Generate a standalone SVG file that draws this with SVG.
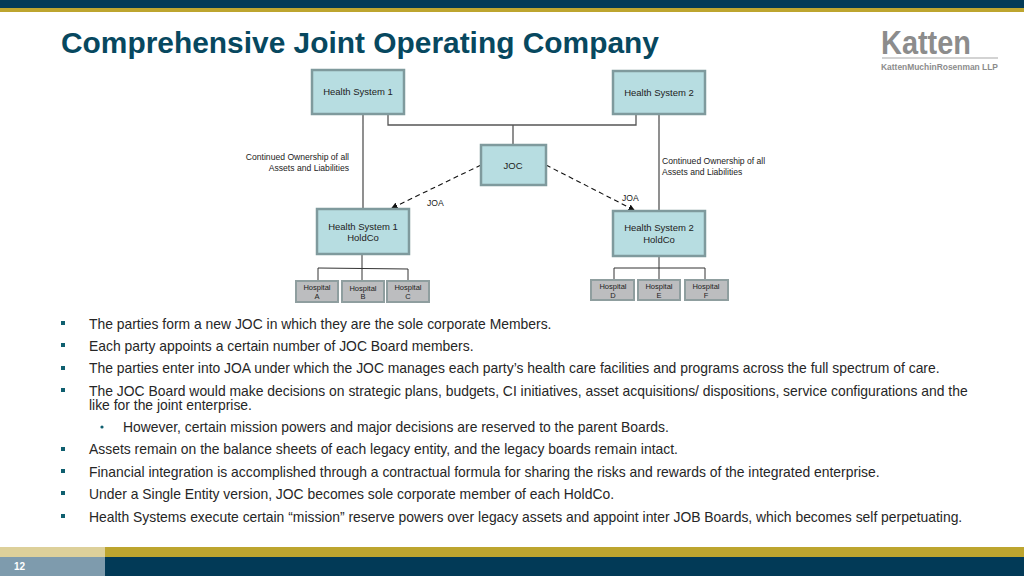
<svg xmlns="http://www.w3.org/2000/svg" width="1024" height="576" viewBox="0 0 1024 576">
<style>
text{font-family:"Liberation Sans",Arial,sans-serif;fill:#222}
.box{fill:#b7dde1;stroke:#7f9a9d;stroke-width:2.5}
.hosp{fill:#bcbdbf;stroke:#8f9e9f;stroke-width:2}
.t{font-size:9.5px;text-anchor:middle}
.h{font-size:7.5px;text-anchor:middle}
.b{font-size:13.9px;fill:#262626}
.l{font-size:8.6px}
.c{fill:none;stroke:#555;stroke-width:1.3}
.d{fill:none;stroke:#111;stroke-width:1.1;stroke-dasharray:5 3.5}
.sq{fill:#0f5f6f}
</style>
<defs><marker id="ah" markerWidth="6" markerHeight="6" refX="5" refY="3" orient="auto"><path d="M0 0L6 3L0 6z" fill="#111"/></marker></defs>
<rect width="1024" height="8" fill="#023a57"/>
<rect y="8" width="1024" height="4" fill="#bda52f"/>
<text x="61" y="52.500" style="font-size:29.9px;font-weight:700;fill:#07485f">Comprehensive Joint Operating Company</text>
<g id="logo">
<text x="881" y="54" style="font-size:33px;font-weight:700;fill:#8c8c8c" textLength="90" lengthAdjust="spacingAndGlyphs">Katten</text>
<rect x="882" y="57.500" width="116" height="1" fill="#a8a8a8"/>
<text x="881" y="70" style="font-size:9px;font-weight:700;fill:#8c8c8c" textLength="117" lengthAdjust="spacingAndGlyphs">KattenMuchinRosenman LLP</text>
</g>
<g id="connectors">
<path class="c" d="M363 114V209M388 114V125H636V114M513 125V145M659 114V211"/>
<path class="c" d="M362 255V268M318 282V268L408 269V282M362 268V281M659 256V268M614 279V268H705V279M659 268V279" style="stroke:#333;stroke-width:1"/>
<path class="d" d="M481 165L392 208" marker-end="url(#ah)"/>
<path class="d" d="M546 165L634 210" marker-end="url(#ah)"/>
</g>
<g id="hs1"><rect class="box" x="312" y="70" width="92" height="44"/><text class="t" x="358" y="95">Health System 1</text></g>
<g id="hs2"><rect class="box" x="613" y="71" width="92" height="43"/><text class="t" x="659" y="96">Health System 2</text></g>
<g id="joc"><rect class="box" x="481" y="145" width="65" height="40"/><text class="t" x="513" y="169">JOC</text></g>
<g id="hc1"><rect class="box" x="317" y="209" width="92" height="45"/><text class="t" x="363" y="230">Health System 1</text><text class="t" x="363" y="241">HoldCo</text></g>
<g id="hc2"><rect class="box" x="613" y="211" width="92" height="45"/><text class="t" x="659" y="231">Health System 2</text><text class="t" x="659" y="243">HoldCo</text></g>
<g id="ha"><rect class="hosp" x="296" y="281" width="42" height="21"/><text class="h" x="317" y="290">Hospital</text><text class="h" x="317" y="299">A</text></g>
<g id="hb"><rect class="hosp" x="342" y="281" width="42" height="21"/><text class="h" x="363" y="291">Hospital</text><text class="h" x="363" y="299">B</text></g>
<g id="hc"><rect class="hosp" x="387" y="281" width="42" height="21"/><text class="h" x="408" y="290">Hospital</text><text class="h" x="408" y="299">C</text></g>
<g id="hd"><rect class="hosp" x="591" y="280" width="43" height="20"/><text class="h" x="613" y="289">Hospital</text><text class="h" x="613" y="298">D</text></g>
<g id="he"><rect class="hosp" x="638" y="280" width="42" height="20"/><text class="h" x="659" y="289">Hospital</text><text class="h" x="659" y="298">E</text></g>
<g id="hf"><rect class="hosp" x="685" y="280" width="43" height="20"/><text class="h" x="706" y="289">Hospital</text><text class="h" x="706" y="298">F</text></g>
<text class="l" x="349" y="160" text-anchor="end">Continued Ownership of all</text>
<text class="l" x="349" y="171" text-anchor="end">Assets and Liabilities</text>
<text class="l" x="662" y="164">Continued Ownership of all</text>
<text class="l" x="662" y="175">Assets and Liabilities</text>
<text class="l" x="427" y="206">JOA</text>
<text class="l" x="622" y="201">JOA</text>
<rect class="sq" x="61" y="321" width="4" height="4"/><text class="b" x="89" y="328.500">The parties form a new JOC in which they are the sole corporate Members.</text>
<rect class="sq" x="61" y="343" width="4" height="4"/><text class="b" x="89" y="350.500">Each party appoints a certain number of JOC Board members.</text>
<rect class="sq" x="61" y="366" width="4" height="4"/><text class="b" x="89" y="372.500">The parties enter into JOA under which the JOC manages each party’s health care facilities and programs across the full spectrum of care.</text>
<rect class="sq" x="61" y="388" width="4" height="4"/><text class="b" x="89" y="395.500">The JOC Board would make decisions on strategic plans, budgets, CI initiatives, asset acquisitions/ dispositions, service configurations and the</text>
<text class="b" x="89" y="410">like for the joint enterprise.</text>
<circle class="sq" cx="102" cy="427" r="1.6"/><text class="b" x="123" y="431.500">However, certain mission powers and major decisions are reserved to the parent Boards.</text>
<rect class="sq" x="61" y="447" width="4" height="4"/><text class="b" x="89" y="454">Assets remain on the balance sheets of each legacy entity, and the legacy boards remain intact.</text>
<rect class="sq" x="61" y="469" width="4" height="4"/><text class="b" x="89" y="476.500">Financial integration is accomplished through a contractual formula for sharing the risks and rewards of the integrated enterprise.</text>
<rect class="sq" x="61" y="491" width="4" height="4"/><text class="b" x="89" y="498.500">Under a Single Entity version, JOC becomes sole corporate member of each HoldCo.</text>
<rect class="sq" x="61" y="514" width="4" height="4"/><text class="b" x="89" y="521.500">Health Systems execute certain “mission” reserve powers over legacy assets and appoint inter JOB Boards, which becomes self perpetuating.</text>
<rect y="547" width="105" height="10" fill="#ddd09a"/>
<rect x="105" y="547" width="919" height="10" fill="#bda52f"/>
<rect y="557" width="105" height="19" fill="#7e9bad"/>
<rect x="105" y="557" width="919" height="19" fill="#023a57"/>
<text x="14" y="570" style="font-size:10px;font-weight:700;fill:#fff">12</text>
</svg>
